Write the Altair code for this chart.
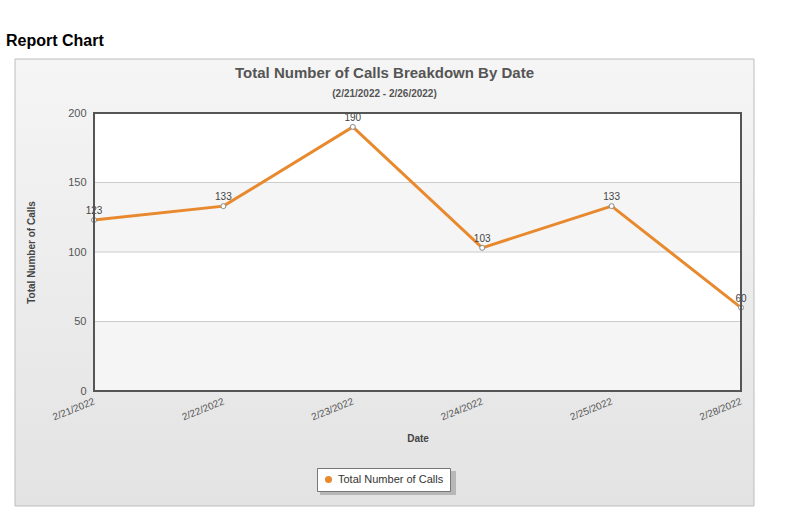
import altair as alt
import pandas as pd

dates = ["2/21/2022", "2/22/2022", "2/23/2022", "2/24/2022", "2/25/2022", "2/28/2022"]
calls = [123, 133, 190, 103, 133, 60]
series_name = "Total Number of Calls"
y_ticks = [0, 50, 100, 150, 200]
grid_vals = [50, 100, 150]
band_lo = [0, 100]
band_hi = [50, 150]

FONT = "Liberation Sans"
ORANGE = "#e8892e"

df = pd.DataFrame({"Date": dates, "Calls": calls, "series": [series_name] * len(dates)})
bands = pd.DataFrame({"lo": band_lo, "hi": band_hi})
grid = pd.DataFrame({"g": grid_vals})
one = pd.DataFrame({"k": [0]})

x_enc = alt.X("Date:N", sort=None,
              scale=alt.Scale(type="point", padding=0),
              axis=alt.Axis(title="Date", labelAngle=-22, labelAlign="right", labelBaseline="top",
                            labelFontSize=10, labelColor="#555", labelFont=FONT, ticks=False,
                            domain=False, grid=False, labelPadding=5, labelOffset=-2,
                            titleFont=FONT, titleFontSize=10, titleColor="#444", titleFontWeight="bold",
                            titlePadding=12, zindex=1))
y_scale = alt.Scale(domain=[0, 200], nice=False, zero=True)
y_enc = alt.Y("Calls:Q", scale=y_scale,
              axis=alt.Axis(title="Total Number of Calls", values=y_ticks, ticks=False, domain=False,
                            grid=False, labelFontSize=11, labelColor="#555", labelFont=FONT,
                            labelPadding=8, titleFont=FONT, titleFontSize=10, titleColor="#444",
                            titleFontWeight="bold", titlePadding=31, zindex=1))

panel = alt.Chart(one).mark_rect(
    fill=alt.LinearGradient(gradient="linear",
                            stops=[alt.GradientStop(color="#f5f5f5", offset=0),
                                   alt.GradientStop(color="#e3e3e3", offset=1)],
                            x1=0, x2=0, y1=0, y2=1),
    stroke="#bdbdbd", strokeWidth=1
).encode(x=alt.value(-79), x2=alt.value(660), y=alt.value(-54), y2=alt.value(393))

plotbg = alt.Chart(one).mark_rect(fill="white").encode(
    x=alt.value(0), x2=alt.value("width"), y=alt.value(0), y2=alt.value("height"))

band_layer = alt.Chart(bands).mark_rect(fill="#f5f5f5").encode(
    x=alt.value(0), x2=alt.value("width"),
    y=alt.Y("lo:Q", scale=y_scale), y2="hi:Q")

grid_layer = alt.Chart(grid).mark_rule(color="#cccccc", strokeWidth=1).encode(
    x=alt.value(0), x2=alt.value("width"), y=alt.Y("g:Q", scale=y_scale))

shadow = alt.Chart(one).mark_rect(fill="#9a9a9a", opacity=0.6).encode(
    x=alt.value(226), x2=alt.value(362), y=alt.value(358), y2=alt.value(382))

base = alt.Chart(df)

line = base.mark_line(strokeWidth=3).encode(
    x=x_enc, y=y_enc,
    color=alt.Color("series:N", scale=alt.Scale(range=[ORANGE]),
                    legend=alt.Legend(title=None, orient="none", legendX=223, legendY=355,
                                      fillColor="white", strokeColor="#777", padding=6,
                                      symbolType="circle", symbolSize=50, symbolFillColor=ORANGE,
                                      symbolStrokeWidth=0, labelFont=FONT, labelFontSize=11,
                                      labelColor="#333", zindex=1)))

points = base.mark_point(filled=True, fill="white", stroke="#888", strokeWidth=1, size=25, opacity=1).encode(
    x=alt.X("Date:N", sort=None), y="Calls:Q")

labels = base.mark_text(dy=-9, fontSize=10, color="#444", font=FONT).encode(
    x=alt.X("Date:N", sort=None), y="Calls:Q", text="Calls:Q")

border = alt.Chart(one).mark_rect(filled=False, stroke="#555", strokeWidth=2, fill=None).encode(
    x=alt.value(0), x2=alt.value("width"), y=alt.value(0), y2=alt.value("height"))

report = alt.Chart(one).mark_text(text="Report Chart", align="left", baseline="alphabetic",
                                  fontSize=16, fontWeight="bold", font=FONT, color="#000").encode(
    x=alt.value(-88), y=alt.value(-67))

chart = alt.layer(panel, plotbg, band_layer, grid_layer, shadow, line, points, labels, border, report).properties(
    width=647, height=278,
    title=alt.TitleParams(text="Total Number of Calls Breakdown By Date",
                          subtitle="(2/21/2022 - 2/26/2022)",
                          font=FONT, fontSize=15, fontWeight="bold", color="#555",
                          subtitleFont=FONT, subtitleFontSize=10, subtitleFontWeight="bold",
                          subtitleColor="#555", subtitlePadding=8, frame="group",
                          anchor="middle", dx=-33, offset=-66, zindex=1),
    autosize=alt.AutoSizeParams(type="none"),
    padding={"left": 94, "top": 113, "right": 51, "bottom": 132},
    background="white"
).configure_view(stroke=None)

chart.save("out.html", embed_options={"renderer": "svg", "actions": False})
